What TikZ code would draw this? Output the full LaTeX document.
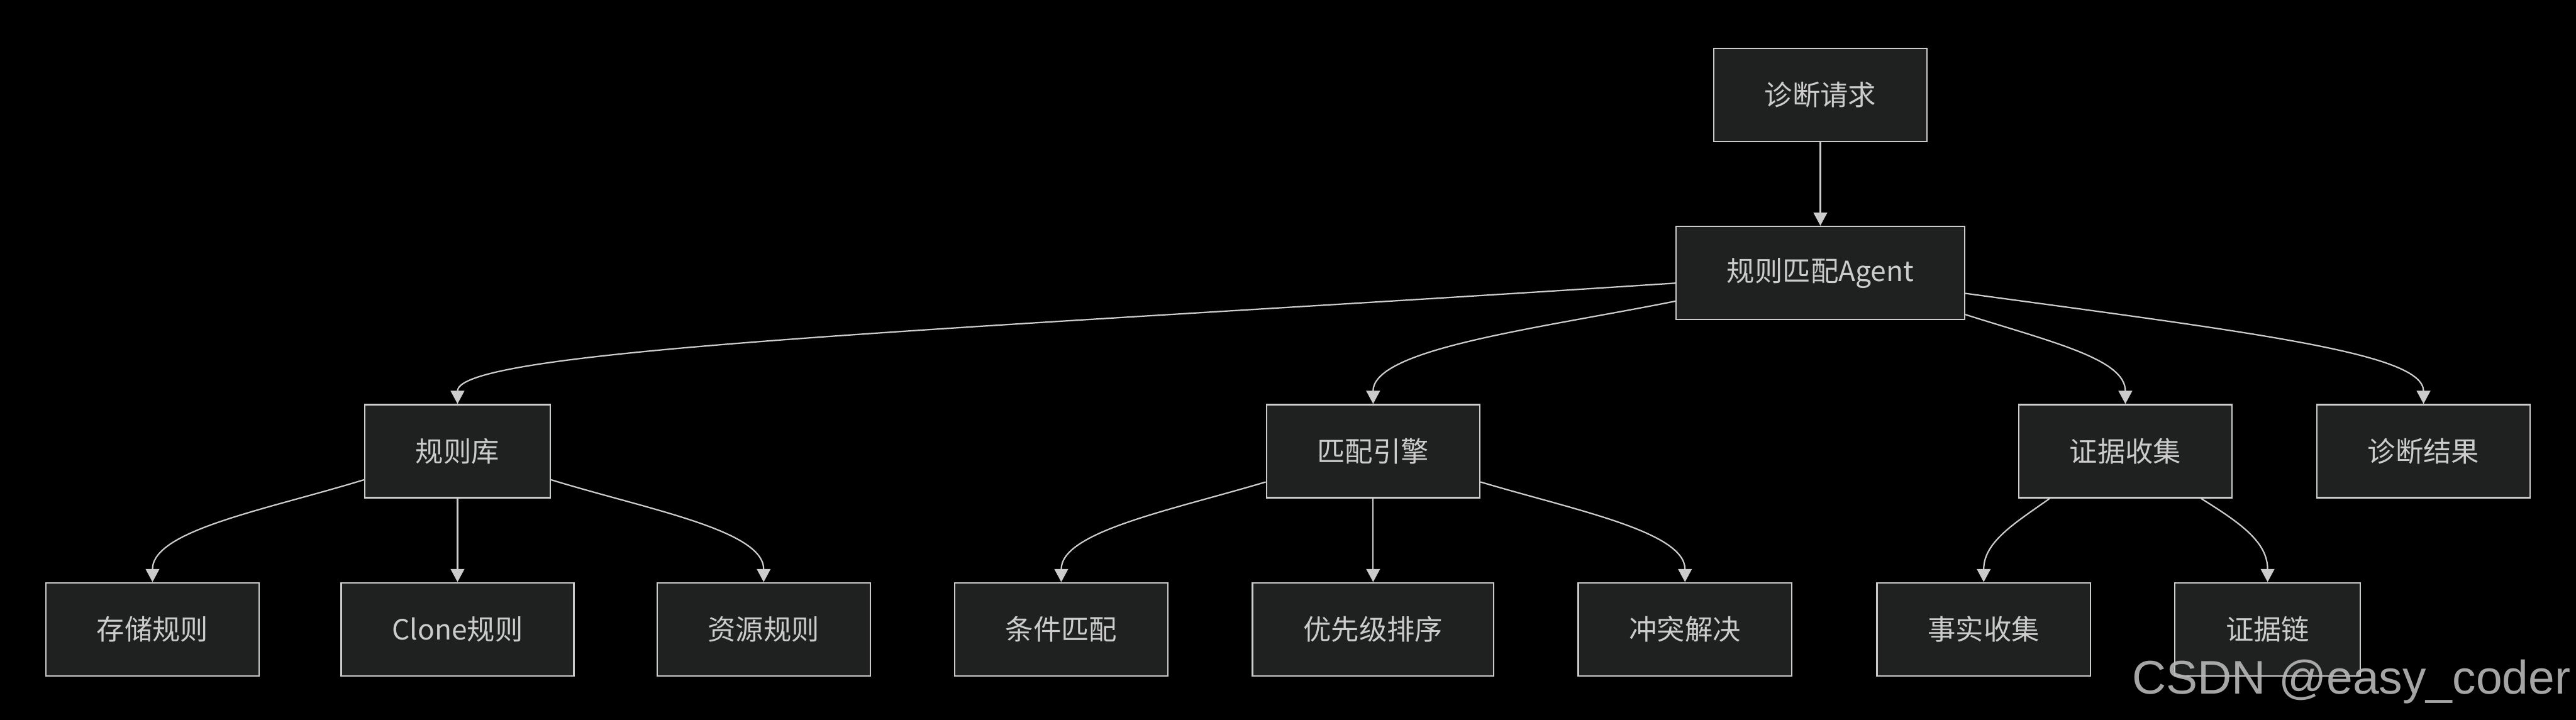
\documentclass[tikz,border=0pt]{standalone}
\usepackage{fontspec}
\setmainfont{Noto Sans CJK SC}
\newfontfamily\wmfont{Liberation Sans}
\usetikzlibrary{arrows.meta}
\definecolor{boxfill}{HTML}{1F2020}
\definecolor{edgegray}{HTML}{CCCCCC}

\begin{document}
\begin{tikzpicture}[>={Triangle[length=2.3mm, width=2.4mm]},
  nodebox/.style={draw=edgegray, fill=boxfill, text=edgegray, line width=0.75pt,
    minimum height=1.63cm, inner xsep=0.89cm, inner ysep=0pt,
    font=\fontsize{13.9pt}{16pt}\selectfont},
  link/.style={->, draw=edgegray, line width=0.7pt}]
% background
\useasboundingbox (0,0) rectangle (45.10,-12.60);
\fill[black] (-0.2,0.2) rectangle (45.30,-12.80);
% top
\node[nodebox] (req)   at (31.87,-1.66) {诊断请求};
\node[nodebox] (agent) at (31.87,-4.78) {规则匹配Agent};
% second row
\node[nodebox] (ruleLib) at ( 8.01,-7.90) {规则库};
\node[nodebox] (engine)  at (24.04,-7.90) {匹配引擎};
\node[nodebox] (evid)    at (37.21,-7.90) {证据收集};
\node[nodebox] (result)  at (42.43,-7.90) {诊断结果};
% bottom row
\node[nodebox] (store) at ( 2.67,-11.02) {存储规则};
\node[nodebox] (clone) at ( 8.01,-11.02) {Clone规则};
\node[nodebox] (res)   at (13.37,-11.02) {资源规则};
\node[nodebox] (cond)  at (18.58,-11.02) {条件匹配};
\node[nodebox] (prio)  at (24.04,-11.02) {优先级排序};
\node[nodebox] (confl) at (29.50,-11.02) {冲突解决};
\node[nodebox] (fact)  at (34.73,-11.02) {事实收集};
\node[nodebox] (chain) at (39.70,-11.02) {证据链};
% agent links
\draw[link] (req) -- (agent);
\draw[link] (agent.184) .. controls +(-12.40,-0.81) and +(0,0.97) .. (ruleLib.north);
\draw[link] (agent.191) .. controls +(-2.40,-0.48) and +(0,0.97) .. (engine.north);
\draw[link] (agent.344) .. controls +(1.55,-0.49) and +(0,0.78) .. (evid.north);
\draw[link] (agent.352) .. controls +(5.15,-0.70) and +(0,0.88) .. (result.north);
% rule base
\draw[link] (ruleLib.197) .. controls +(-1.69,-0.52) and +(0,0.91) .. (store.north);
\draw[link] (ruleLib) -- (clone);
\draw[link] (ruleLib.343) .. controls +(1.69,-0.52) and +(0,0.91) .. (res.north);
% engine
\draw[link] (engine.196) .. controls +(-1.68,-0.50) and +(0,0.88) .. (cond.north);
\draw[link] (engine) -- (prio);
\draw[link] (engine.344) .. controls +(1.68,-0.50) and +(0,0.88) .. (confl.north);
% evidence
\draw[link] (evid.212) .. controls +(-0.59,-0.42) and +(0,0.71) .. (fact.north);
\draw[link] (evid.328) .. controls +(0.67,-0.42) and +(0,0.71) .. (chain.north);
% watermark
\node[anchor=base west, inner sep=0pt, text=white!72!black, text opacity=0.9,
  font=\wmfont\fontsize{23.5pt}{26pt}\selectfont] (wm) at (37.32,-12.15) {CSDN @easy\_coder};
\end{tikzpicture}
\end{document}
